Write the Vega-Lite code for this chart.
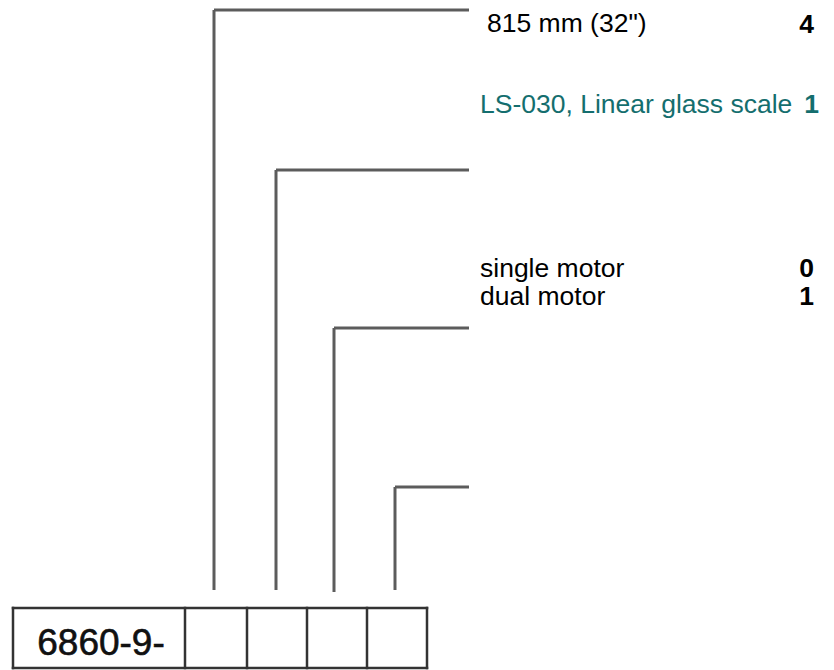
{
  "$schema": "https://vega.github.io/schema/vega-lite/v6.json",
  "width": 834,
  "height": 670,
  "autosize": {"type": "fit", "contains": "padding"},
  "padding": 0,
  "background": "white",
  "config": {"view": {"stroke": null}},
  "datasets": {
    "leaders": [
      {"x": 214, "y": 10, "x2": 469, "y2": 10},
      {"x": 214, "y": 10, "x2": 214, "y2": 590},
      {"x": 276, "y": 170, "x2": 469, "y2": 170},
      {"x": 276, "y": 170, "x2": 276, "y2": 590},
      {"x": 334, "y": 328, "x2": 469, "y2": 328},
      {"x": 334, "y": 328, "x2": 334, "y2": 592},
      {"x": 395, "y": 487, "x2": 469, "y2": 487},
      {"x": 395, "y": 487, "x2": 395, "y2": 590}
    ],
    "box": [
      {"x": 13, "y": 608, "x2": 427, "y2": 608},
      {"x": 13, "y": 668, "x2": 427, "y2": 668},
      {"x": 13, "y": 608, "x2": 13, "y2": 668},
      {"x": 427, "y": 608, "x2": 427, "y2": 668},
      {"x": 185, "y": 608, "x2": 185, "y2": 668},
      {"x": 247, "y": 608, "x2": 247, "y2": 668},
      {"x": 307, "y": 608, "x2": 307, "y2": 668},
      {"x": 367, "y": 608, "x2": 367, "y2": 668}
    ],
    "labels": [
      {"x": 487, "y": 32, "label": "815 mm (32\")", "kind": "plain"},
      {"x": 480, "y": 113, "label": "LS-030, Linear glass scale", "kind": "teal"},
      {"x": 480, "y": 277, "label": "single motor", "kind": "plain"},
      {"x": 480, "y": 305, "label": "dual motor", "kind": "plain"}
    ],
    "codes": [
      {"x": 814, "y": 33, "label": "4", "kind": "plain"},
      {"x": 819, "y": 113, "label": "1", "kind": "teal"},
      {"x": 814, "y": 277, "label": "0", "kind": "plain"},
      {"x": 814, "y": 305, "label": "1", "kind": "plain"}
    ],
    "part": [
      {"x": 101, "y": 655, "label": "6860-9-"}
    ]
  },
  "layer": [
    {
      "data": {"name": "leaders"},
      "mark": {"type": "rule", "stroke": "#5c5c5c", "strokeWidth": 3},
      "encoding": {
        "x": {"field": "x", "type": "quantitative", "scale": {"domain": [0, 834], "nice": false, "zero": false}, "axis": null},
        "y": {"field": "y", "type": "quantitative", "scale": {"domain": [0, 670], "nice": false, "zero": false, "reverse": true}, "axis": null},
        "x2": {"field": "x2"},
        "y2": {"field": "y2"}
      }
    },
    {
      "data": {"name": "box"},
      "mark": {"type": "rule", "stroke": "#333333", "strokeWidth": 2.5, "strokeCap": "square"},
      "encoding": {
        "x": {"field": "x", "type": "quantitative"},
        "y": {"field": "y", "type": "quantitative"},
        "x2": {"field": "x2"},
        "y2": {"field": "y2"}
      }
    },
    {
      "data": {"name": "labels"},
      "mark": {"type": "text", "align": "left", "baseline": "alphabetic", "font": "Liberation Sans", "fontSize": 26.5},
      "encoding": {
        "x": {"field": "x", "type": "quantitative"},
        "y": {"field": "y", "type": "quantitative"},
        "text": {"field": "label"},
        "color": {"field": "kind", "type": "nominal", "scale": {"domain": ["plain", "teal"], "range": ["#000000", "#146e6e"]}, "legend": null}
      }
    },
    {
      "data": {"name": "codes"},
      "mark": {"type": "text", "align": "right", "baseline": "alphabetic", "font": "Liberation Sans", "fontSize": 26.5, "fontWeight": "bold"},
      "encoding": {
        "x": {"field": "x", "type": "quantitative"},
        "y": {"field": "y", "type": "quantitative"},
        "text": {"field": "label"},
        "color": {"field": "kind", "type": "nominal", "legend": null}
      }
    },
    {
      "data": {"name": "part"},
      "mark": {"type": "text", "align": "center", "baseline": "alphabetic", "font": "Liberation Sans", "fontSize": 37, "color": "#111111", "stroke": "#111111", "strokeWidth": 0.6},
      "encoding": {
        "x": {"field": "x", "type": "quantitative"},
        "y": {"field": "y", "type": "quantitative"},
        "text": {"field": "label"}
      }
    }
  ]
}
